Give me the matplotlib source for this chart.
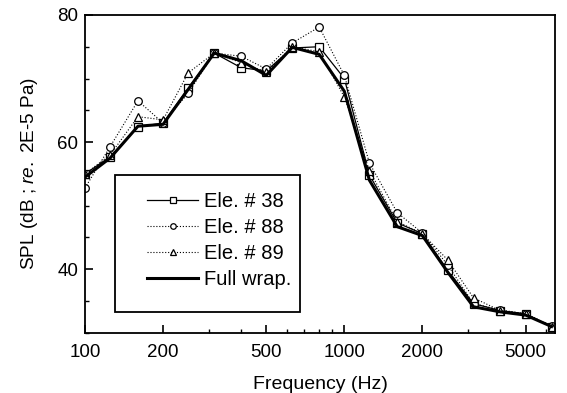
import numpy as np
import matplotlib
matplotlib.use('Agg')
import matplotlib.pyplot as plt
from matplotlib.ticker import FixedLocator, NullFormatter, MultipleLocator
from matplotlib.patches import Rectangle

plt.rcParams['font.family'] = ['Liberation Sans', 'DejaVu Sans']
plt.rcParams['mathtext.fontset'] = 'custom'
plt.rcParams['mathtext.it'] = 'Liberation Sans:italic'
plt.rcParams['mathtext.rm'] = 'Liberation Sans'

# 1/3 octave band centres (Hz)
freq = [100, 125, 160, 200, 250, 315, 400, 500, 630, 800, 1000,
        1250, 1600, 2000, 2500, 3150, 4000, 5000, 6300]
ele38 = [55.0, 57.7, 62.4, 63.0, 68.5, 74.0, 71.7, 71.2, 74.8, 75.0, 70.0,
         54.8, 47.3, 45.6, 39.9, 34.6, 33.5, 33.0, 31.0]
ele88 = [52.8, 59.3, 66.5, 63.0, 67.7, 74.0, 73.5, 71.5, 75.6, 78.1, 70.5,
         56.7, 48.9, 45.7, 40.7, 34.6, 33.6, 33.0, 31.1]
ele89 = [55.0, 58.0, 64.0, 63.5, 70.9, 74.0, 72.5, 71.0, 75.0, 74.2, 67.1,
         55.5, 47.5, 45.6, 41.5, 35.5, 33.5, 33.0, 31.0]
full_wrap = [54.5, 57.5, 62.5, 62.8, 68.3, 74.0, 72.8, 70.5, 74.9, 73.8, 68.0,
             54.0, 46.7, 45.3, 39.6, 34.1, 33.3, 32.8, 31.0]

xticks = [100, 200, 500, 1000, 2000, 5000]
yticks = [40, 60, 80]

fig = plt.figure(figsize=(5.67, 3.93), dpi=100)
ax = fig.add_axes([0.150, 0.153, 0.829, 0.809])

ax.plot(freq, ele38, color='black', linewidth=0.9, linestyle='-',
        marker='s', markersize=5.5, markerfacecolor='white', markeredgewidth=0.9,
        label='Ele. # 38')
ax.plot(freq, ele88, color='black', linewidth=0.8, linestyle=':',
        marker='o', markersize=5.5, markerfacecolor='white', markeredgewidth=0.9,
        label='Ele. # 88')
ax.plot(freq, ele89, color='black', linewidth=0.8, linestyle=':',
        marker='^', markersize=6, markerfacecolor='white', markeredgewidth=0.9,
        label='Ele. # 89')
ax.plot(freq, full_wrap, color='black', linewidth=2.2, linestyle='-',
        label='Full wrap.')

ax.set_xscale('log')
ax.set_xlim(100, 6500)
ax.set_ylim(30, 80)

ax.xaxis.set_major_locator(FixedLocator(xticks))
ax.xaxis.set_major_formatter(plt.FixedFormatter([str(t) for t in xticks]))
minor = [f for d in (100, 1000) for f in np.arange(2, 10) * d if f not in xticks and f < 6500]
ax.xaxis.set_minor_locator(FixedLocator(minor))
ax.xaxis.set_minor_formatter(NullFormatter())
ax.yaxis.set_major_locator(FixedLocator(yticks))
ax.yaxis.set_minor_locator(MultipleLocator(5))

ax.tick_params(which='both', direction='in', top=False, right=False, labelsize=13.5)
ax.tick_params(which='major', length=6, width=1.2, pad=5)
ax.tick_params(axis='x', which='major', pad=8)
ax.tick_params(which='minor', length=3, width=1.0)

for s in ax.spines.values():
    s.set_linewidth(1.3)

ax.set_xlabel('Frequency (Hz)', fontsize=14, labelpad=11)
ax.set_ylabel('SPL (dB ; $re.$ 2E-5 Pa)', fontsize=13.7, labelpad=12)

# legend frame drawn separately to match the reference box
ax.add_patch(Rectangle((0.064, 0.066), 0.393, 0.431, transform=ax.transAxes,
                       facecolor='white', edgecolor='black', linewidth=1.3, zorder=4))
leg = ax.legend(loc='upper left', bbox_to_anchor=(0.132, 0.444), borderaxespad=0,
                borderpad=0, frameon=False, fontsize=14.5, handlelength=2.55,
                labelspacing=0.35, handletextpad=0.3)
leg.set_zorder(5)
for h in leg.legend_handles:
    h.set_markersize(4)

fig.savefig('out.png', dpi=100)
